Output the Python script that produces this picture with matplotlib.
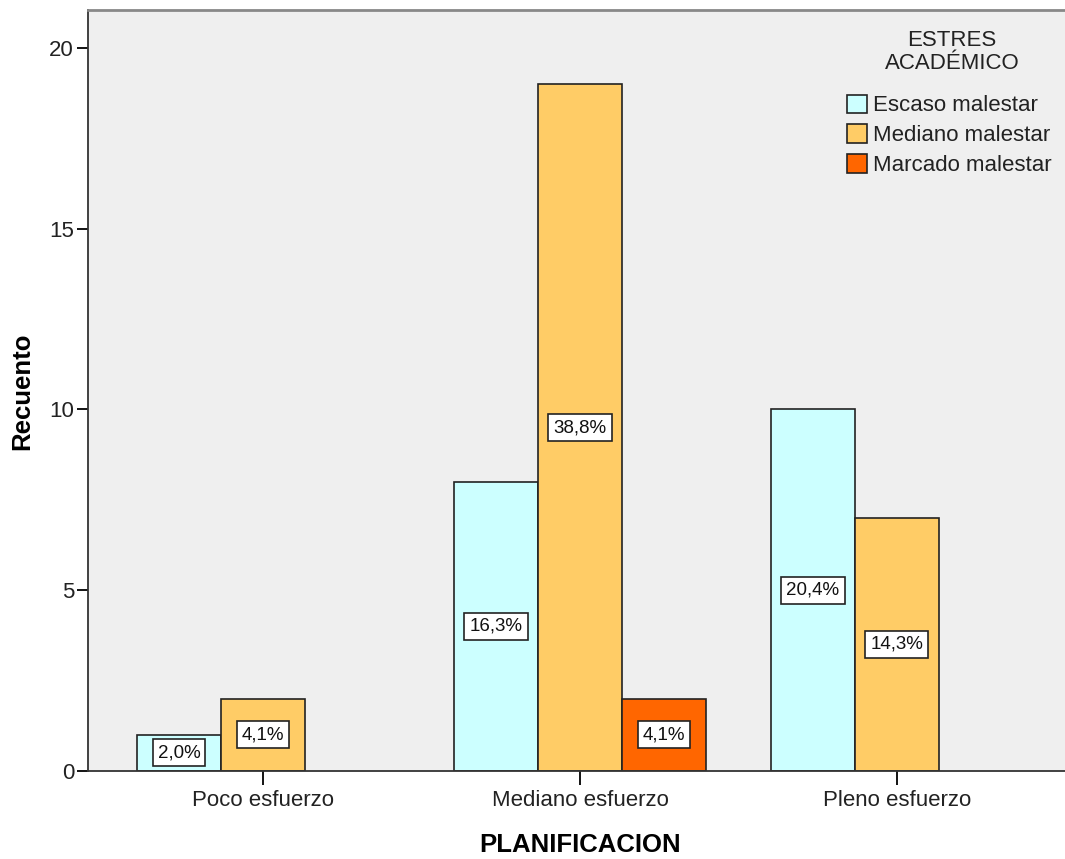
import numpy as np
import matplotlib
matplotlib.use('Agg')
import matplotlib.pyplot as plt

plt.rcParams['font.family'] = ['Liberation Sans', 'DejaVu Sans']

grupos = ['Poco esfuerzo', 'Mediano esfuerzo', 'Pleno esfuerzo']
series = ['Escaso malestar', 'Mediano malestar', 'Marcado malestar']
colores = ['#ccffff', '#ffcc66', '#ff6600']

# recuentos por serie (None = sin barra)
escaso = [1, 8, 10]
mediano = [2, 19, 7]
marcado = [None, 2, None]

pct_escaso = ['2,0%', '16,3%', '20,4%']
pct_mediano = ['4,1%', '38,8%', '14,3%']
pct_marcado = [None, '4,1%', None]

valores = [escaso, mediano, marcado]
etiquetas = [pct_escaso, pct_mediano, pct_marcado]

fig = plt.figure(figsize=(10.65, 8.59), dpi=100)
ax = fig.add_axes([88/1065, 88/859, 1 - 88/1065, (771-10)/859])
ax.set_facecolor('#efefef')

x = np.arange(len(grupos))
ancho = 0.265
offsets = [-ancho, 0, ancho]

for k in range(3):
    for i in range(len(grupos)):
        v = valores[k][i]
        if v is None:
            continue
        xc = x[i] + offsets[k]
        ax.bar(xc, v, width=ancho, color=colores[k], edgecolor='#222222', linewidth=1.2, zorder=2)
        ax.text(xc, v / 2, etiquetas[k][i], ha='center', va='center', fontsize=13.5, zorder=3,
                color='#111111',
                bbox=dict(boxstyle='square,pad=0.27', facecolor='white', edgecolor='#222222', linewidth=1.2))

# handles de leyenda
for k in range(3):
    ax.bar([np.nan], [np.nan], color=colores[k], edgecolor='#222222', linewidth=1.2, label=series[k])

ax.set_xlim(-0.552, 2.53)
ax.set_ylim(0, 21.05)
ax.set_xticks(x)
ax.set_xticklabels(grupos, fontsize=16, color='#222222')
ax.set_yticks([0, 5, 10, 15, 20])
ax.set_yticklabels(['0', '5', '10', '15', '20'], fontsize=16, color='#222222')
ax.tick_params(axis='y', length=8, width=1.3, direction='out', pad=2)
ax.tick_params(axis='x', length=10, width=1.3, direction='out', pad=4)

for s in ['left', 'bottom']:
    ax.spines[s].set_color('#333333')
    ax.spines[s].set_linewidth(1.3)
ax.spines['top'].set_color('#888888')
ax.spines['top'].set_linewidth(2)
ax.spines['right'].set_visible(False)

ax.set_xlabel('PLANIFICACION', fontsize=18.5, fontweight='bold', va='center')
ax.set_ylabel('Recuento', fontsize=18.5, fontweight='bold', va='center')
ax.xaxis.set_label_coords(0.5 + (580 - 576.5) / 977, (771 - 845) / 761)
ax.yaxis.set_label_coords((22 - 88) / 977, (771 - 391) / 761)

# titulo de la leyenda aparte
fig.text(952/1065, 1 - 52/859, 'ESTRES\nACADÉMICO', ha='center', va='center',
         fontsize=16, color='#222222', linespacing=1.08, multialignment='center')

leg = ax.legend(loc='upper left',
                bbox_to_anchor=(831/1065, 1 - 79/859), bbox_transform=fig.transFigure,
                frameon=False, fontsize=16,
                handlelength=0.9, handleheight=0.9, handletextpad=0.3,
                labelspacing=0.36, borderpad=0.2)
for t in leg.get_texts():
    t.set_color('#222222')

fig.savefig('out.png', dpi=100)
